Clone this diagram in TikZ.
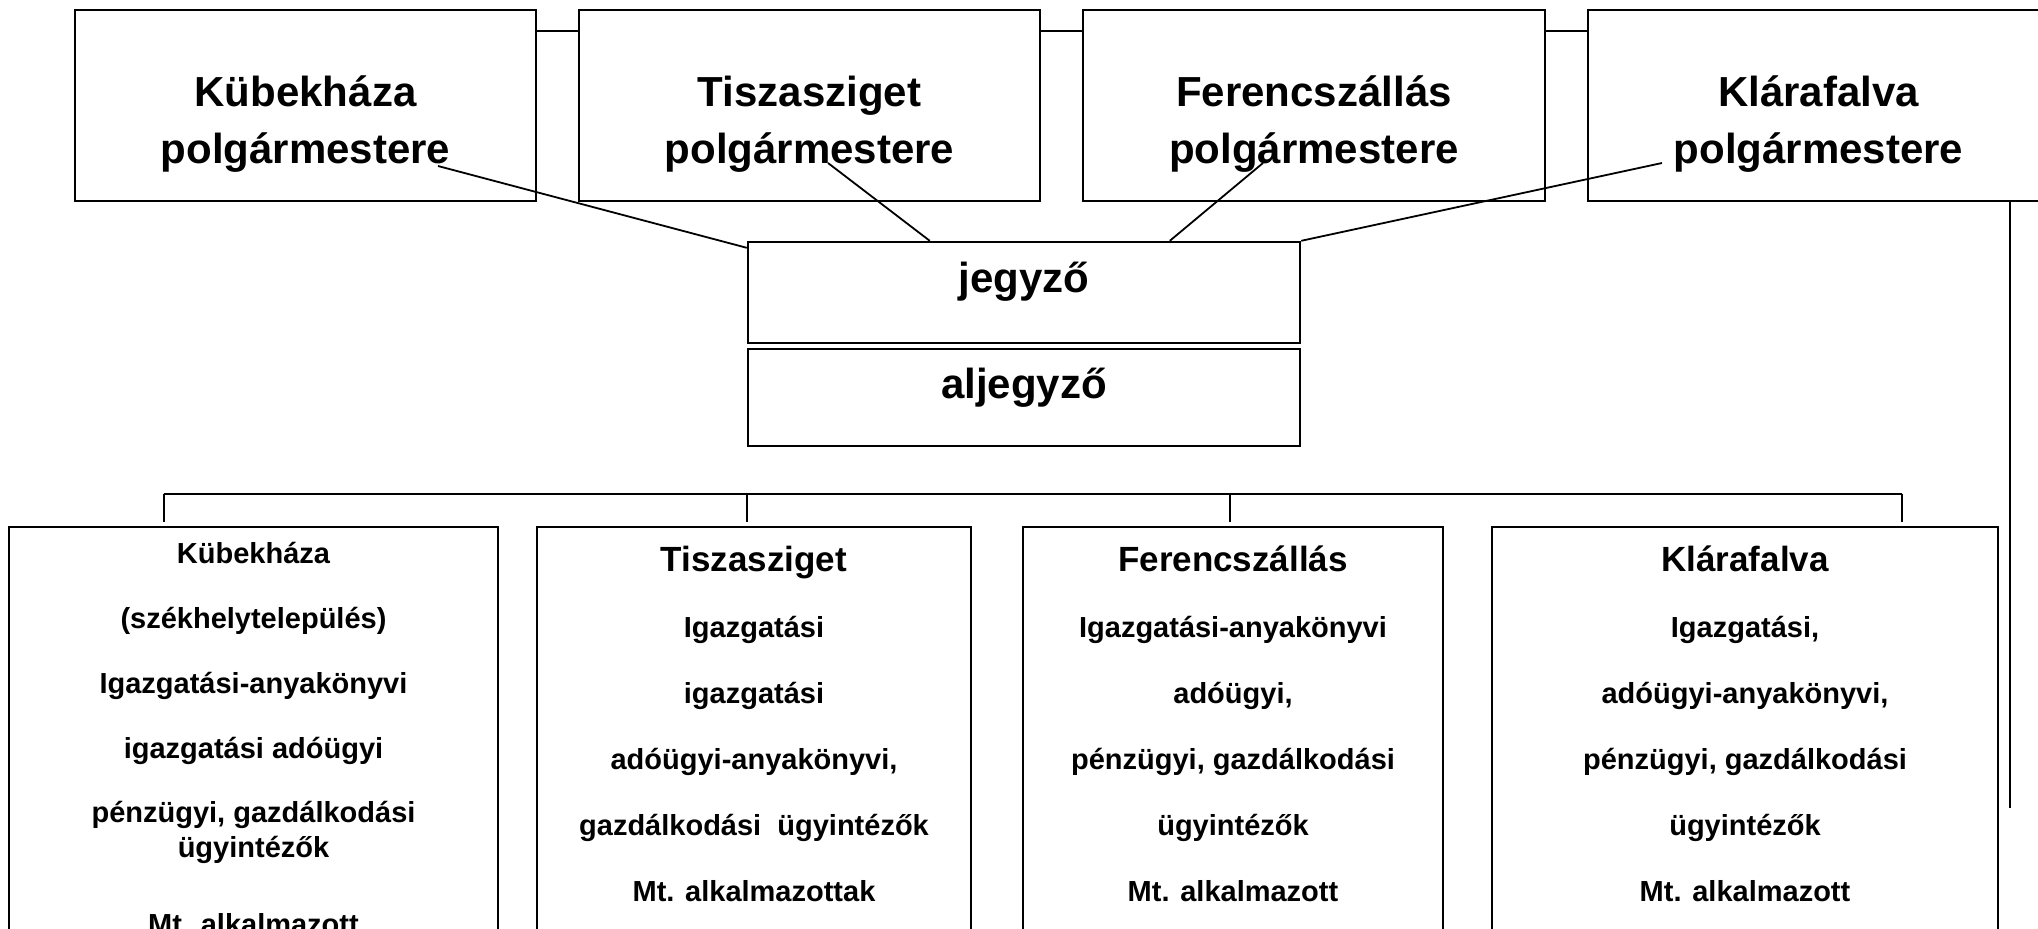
\documentclass[tikz,border=0pt]{standalone}
\usepackage{fontspec}
\setmainfont{Liberation Sans}
\usetikzlibrary{calc}
\newcommand\boxat[5]{\node[box, minimum width={(#4-#2)*0.5pt}, minimum height={(#5-#3)*0.5pt}] (#1) at ({(#2+#4)/2},{(#3+#5)/2}) {};}
\begin{document}
\begin{tikzpicture}[x=0.5pt,y=-0.5pt,
  box/.style={draw, line width=1.2pt, fill=white, inner sep=0pt, rectangle},
  conn/.style={line width=1pt},
  diag/.style={line width=0.9pt},
  big/.style={font=\fontsize{21}{25}\selectfont\bfseries, anchor=base, inner sep=0pt},
  head/.style={font=\fontsize{17.5}{21}\selectfont\bfseries, anchor=base, inner sep=0pt},
  body/.style={font=\fontsize{14.5}{17}\selectfont\bfseries, anchor=base, inner sep=0pt}]
\useasboundingbox (0,0) rectangle (2038,928);
% top boxes
\boxat{T1}{75}{10}{536}{201}
\boxat{T2}{579}{10}{1040}{201}
\boxat{T3}{1083}{10}{1545}{201}
\boxat{T4}{1588}{10}{2049}{201}
% jegyzo, aljegyzo
\boxat{J}{748}{242}{1300}{343}
\boxat{A}{748}{349}{1300}{446}
% bottom boxes
\boxat{B1}{9}{527}{498}{950}
\boxat{B2}{537}{527}{971}{950}
\boxat{B3}{1023}{527}{1443}{950}
\boxat{B4}{1492}{527}{1998}{950}
% top texts
\node[big] (t1a) at (305.5,106) {Kübekháza};
\node[big] (t1b) at (305.5,163) {polgármestere};
\node[big] (t2a) at (809.5,106) {Tiszasziget};
\node[big] (t2b) at (809.5,163) {polgármestere};
\node[big] (t3a) at (1314,106) {Ferencszállás};
\node[big] (t3b) at (1314,163) {polgármestere};
\node[big] (t4a) at (1818.5,106) {Klárafalva};
\node[big] (t4b) at (1818.5,163) {polgármestere};
\node[big] (jt) at (1024,292) {jegyző};
\node[big] (at) at (1024,398) {aljegyző};
% bottom box 1
\node[body] (b1a) at (253.5,563) {Kübekháza};
\node[body] (b1b) at (253.5,628) {(székhelytelepülés)};
\node[body] (b1c) at (253.5,693) {Igazgatási-anyakönyvi};
\node[body] (b1d) at (253.5,758) {igazgatási adóügyi};
\node[body] (b1e) at (253.5,822) {pénzügyi, gazdálkodási};
\node[body] (b1f) at (253.5,857) {ügyintézők};
\node[body] (b1g) at (253.5,934) {Mt. alkalmazott};
% bottom box 2
\node[head] (b2a) at (754,571) {Tiszasziget};
\node[body] (b2b) at (754,637) {Igazgatási};
\node[body] (b2c) at (754,703) {igazgatási};
\node[body] (b2d) at (754,769) {adóügyi-anyakönyvi,};
\node[body] (b2e) at (754,835) {gazdálkodási\ \ ügyintézők};
\node[body] (b2f) at (754,901) {Mt. alkalmazottak};
% bottom box 3
\node[head] (b3a) at (1233,571) {Ferencszállás};
\node[body] (b3b) at (1233,637) {Igazgatási-anyakönyvi};
\node[body] (b3c) at (1233,703) {adóügyi,};
\node[body] (b3d) at (1233,769) {pénzügyi, gazdálkodási};
\node[body] (b3e) at (1233,835) {ügyintézők};
\node[body] (b3f) at (1233,901) {Mt. alkalmazott};
% bottom box 4
\node[head] (b4a) at (1745,571) {Klárafalva};
\node[body] (b4b) at (1745,637) {Igazgatási,};
\node[body] (b4c) at (1745,703) {adóügyi-anyakönyvi,};
\node[body] (b4d) at (1745,769) {pénzügyi, gazdálkodási};
\node[body] (b4e) at (1745,835) {ügyintézők};
\node[body] (b4f) at (1745,901) {Mt. alkalmazott};
% top connecting segments
\coordinate (ty) at (0,31);
\draw[conn] (T1.east |- ty) -- (T2.west |- ty);
\draw[conn] (T2.east |- ty) -- (T3.west |- ty);
\draw[conn] (T3.east |- ty) -- (T4.west |- ty);
% diagonals from mayors to jegyzo
\coordinate (d1) at (438,166);
\coordinate (d2) at (828,163);
\coordinate (d3) at (1263,163);
\coordinate (d4) at (1662,163);
\draw[diag] (d1) -- ($(J.north west)+(0,7)$);
\draw[diag] (d2) -- ($(J.north west)!0.33!(J.north east)$);
\draw[diag] (d3) -- ($(J.north west)!0.763!(J.north east)$);
\draw[diag] (d4) -- (J.north east);
% aljegyzo to bus
\coordinate (k1) at (164,494);
\coordinate (k2) at (747,494);
\coordinate (k3) at (1230,494);
\coordinate (k4) at (1902,494);
\draw[conn] ($(A.south)+(-13,0)$) -- ($(A.south)+(-13,0)$ |- k1);
\draw[conn] (k1) -- (k4);
\draw[conn,shorten >=2pt] (k1) -- (k1 |- B1.north);
\draw[conn,shorten >=2pt] (k2) -- (k2 |- B2.north);
\draw[conn,shorten >=2pt] (k3) -- (k3 |- B3.north);
\draw[conn,shorten >=2pt] (k4) -- (k4 |- B4.north);
% long line from Klarafalva mayor
\coordinate (lend) at (2010,808);
\draw[conn] (T4.south -| lend) -- (lend);
\end{tikzpicture}
\end{document}
